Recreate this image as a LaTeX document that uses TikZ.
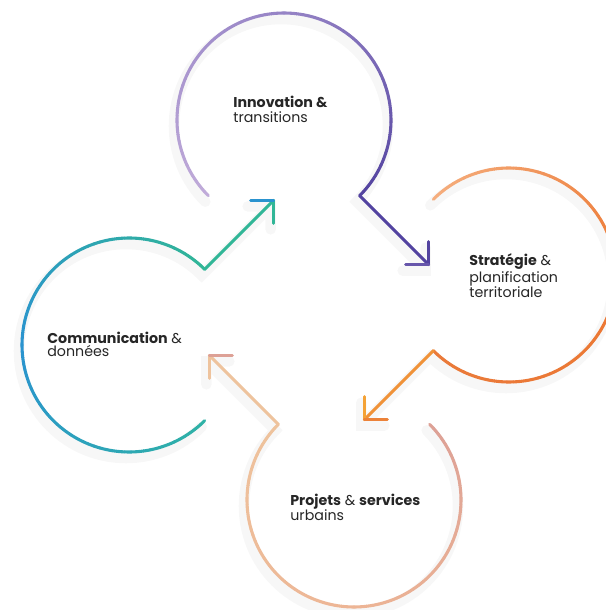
\documentclass[tikz,border=0pt]{standalone}
\usepackage{fontspec}
\setmainfont{Poppins}
\definecolor{ink}{HTML}{262626}
\definecolor{lilacA}{HTML}{C0ABD9}
\definecolor{lilacB}{HTML}{9684C6}
\definecolor{indigo}{HTML}{5343A0}
\definecolor{orgA}{HTML}{F5AE7E}
\definecolor{orgB}{HTML}{EC7833}
\definecolor{orgC}{HTML}{EA7A3A}
\definecolor{orgTip}{HTML}{F4A236}
\definecolor{pinkA}{HTML}{DDA196}
\definecolor{peachB}{HTML}{EDB595}
\definecolor{peachC}{HTML}{EEC39D}
\definecolor{tealA}{HTML}{2FB2A6}
\definecolor{blueL}{HTML}{2A93CF}
\definecolor{tealB}{HTML}{31B697}
\tikzset{
  ring/.style={line width=1.75pt, line cap=round},
  tipline/.style={line width=1.75pt, line cap=round, line join=miter},
  soft/.style={line width=6pt, black, opacity=0.03, line cap=round},
  label/.style={anchor=base west, inner sep=0pt, align=left, text=ink},
}
% arc with a colour gradient: centre, radius, start, end, from, to
\newcommand{\gradarc}[6]{%
  \foreach \k in {1,...,40}{%
    \pgfmathsetmacro{\angA}{#3+(#4-#3)*(\k-1)/40}%
    \pgfmathsetmacro{\angB}{#3+(#4-#3)*\k/40}%
    \pgfmathtruncatemacro{\mix}{100*(\k-1)/39}%
    \draw[ring, draw=#6!\mix!#5] (#1) ++(\angA:#2) arc[start angle=\angA, end angle=\angB, radius=#2];
  }}
\begin{document}
\begin{tikzpicture}[x=0.02cm, y=0.02cm]
\useasboundingbox (0,0) rectangle (606,610);
\fill[white] (0,0) rectangle (606,610);
\clip (0,0) rectangle (606,610);

% centres of the four rings
\coordinate (cT) at (284,490);
\coordinate (cR) at (509,335);
\coordinate (cB) at (354,110);
\coordinate (cL) at (129,265);

% arrow ends, tips and wings
\path (cT) ++(-45:107) coordinate (eT) ++(69,-69) coordinate (tT);
\path (tT) ++(0,23) coordinate (wT1) (tT) ++(-23,0) coordinate (wT2);
\path (cR) ++(225:107) coordinate (eR) ++(-69,-69) coordinate (tR);
\path (tR) ++(0,23) coordinate (wR1) (tR) ++(23,0) coordinate (wR2);
\path (cB) ++(135:107) coordinate (eB) ++(-69,69) coordinate (tB);
\path (tB) ++(23,0) coordinate (wB1) (tB) ++(0,-23) coordinate (wB2);
\path (cL) ++(45:107) coordinate (eL) ++(69,69) coordinate (tL);
\path (tL) ++(-23,0) coordinate (wL1) (tL) ++(0,-23) coordinate (wL2);

% soft shadows
\begin{scope}[transform canvas={shift={(-3,-6)}}]
\draw[soft] (cT) ++(225:107) arc[start angle=225, end angle=-45, radius=107] -- (tT) (wT1) -- (tT) -- (wT2);
\draw[soft] (cR) ++(135:107) arc[start angle=135, end angle=-135, radius=107] -- (tR) (wR1) -- (tR) -- (wR2);
\draw[soft] (cB) ++(45:107) arc[start angle=45, end angle=-225, radius=107] -- (tB) (wB1) -- (tB) -- (wB2);
\draw[soft] (cL) ++(-45:107) arc[start angle=-45, end angle=-315, radius=107] -- (tL) (wL1) -- (tL) -- (wL2);
\end{scope}

% Innovation
\gradarc{cT}{107}{225}{90}{lilacA}{lilacB}
\gradarc{cT}{107}{90}{-45}{lilacB}{indigo}
\draw[tipline, indigo] (eT) -- (tT);
\draw[tipline, indigo] (wT1) -- (tT);
\draw[tipline, indigo!70!lilacB] (tT) -- (wT2);

% Strategie
\gradarc{cR}{107}{135}{0}{orgA}{orgB}
\gradarc{cR}{107}{0}{-135}{orgB}{orgC}
\draw[tipline, orgTip!60!orgC] (eR) -- (tR);
\draw[tipline, orgTip] (wR1) -- (tR);
\draw[tipline, orgC!80!orgTip] (tR) -- (wR2);

% Projets
\gradarc{cB}{107}{45}{-90}{pinkA}{peachB}
\gradarc{cB}{107}{-90}{-225}{peachB}{peachC}
\draw[tipline, peachC] (eB) -- (tB);
\draw[tipline, peachC] (wB2) -- (tB);
\draw[tipline, pinkA] (tB) -- (wB1);

% Communication
\gradarc{cL}{107}{-45}{-180}{tealA}{blueL}
\gradarc{cL}{107}{-180}{-315}{blueL}{tealB}
\draw[tipline, tealB] (eL) -- (tL);
\draw[tipline, tealB] (wL2) -- (tL);
\draw[tipline, blueL] (tL) -- (wL1);

% labels (anchored on the last line)
\node[label, font=\fontsize{8.1}{8.9}\selectfont] (innov) at (233,487)
  {\textbf{Innovation \&}\\transitions};
\node[label, font=\fontsize{8.1}{8.3}\selectfont] (strat) at (469,313)
  {\textbf{Stratégie} \&\\planification\\territoriale};
\node[label, font=\fontsize{8.1}{7.3}\selectfont] (comm) at (47,254)
  {\textbf{Communication} \&\\données};
\node[label, font=\fontsize{8.1}{8.5}\selectfont] (proj) at (290,90)
  {\textbf{Projets} \& \textbf{services}\\urbains};
\end{tikzpicture}
\end{document}
